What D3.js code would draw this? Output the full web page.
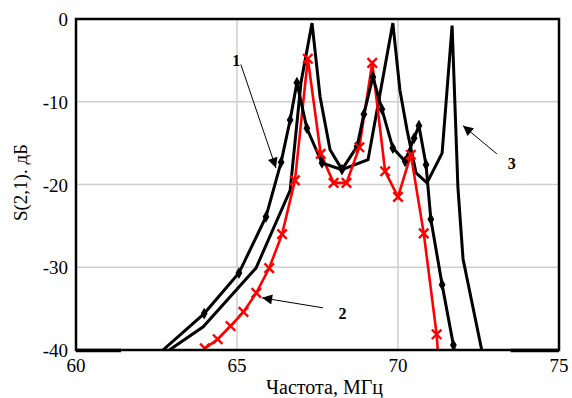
<!DOCTYPE html>
<html><head><meta charset="utf-8">
<script src="https://cdn.jsdelivr.net/npm/d3@7"></script>
<style>body{margin:0;background:#fff}svg{display:block}</style>
</head><body>
<script>
const xTicks = [60, 65, 70, 75];
const yTicks = [0, -10, -20, -30, -40];
const xTitle = "Частота, МГц";
const yTitle = "S(2,1). дБ";

// Curve 1: black with diamond markers
const c1f = [62.7, 63.98, 65.06, 65.9, 66.37, 66.65, 66.86, 67.17, 67.64, 68.26, 68.73, 68.94, 69.22, 69.5, 69.84, 70.22, 70.5, 70.65, 70.87, 71.02, 71.37, 71.72, 71.8];
const c1v = [-40, -35.6, -30.7, -23.9, -17.3, -12.2, -7.7, -13.2, -17.4, -18.2, -15.4, -11.5, -7.0, -10.9, -15.6, -17.2, -14.4, -12.9, -17.6, -24.2, -32.1, -39.4, -41];
const c1marked = [false, true, true, true, true, true, true, true, true, true, true, true, true, true, true, true, true, true, true, true, true, true, false];

// Curve 2: red with x markers
const c2f = [64.0, 64.4, 64.8, 65.2, 65.6, 66.0, 66.4, 66.8, 67.2, 67.6, 68.0, 68.4, 68.8, 69.2, 69.6, 70.0, 70.4, 70.8, 71.2, 71.6];
const c2v = [-39.8, -38.7, -37.1, -35.4, -33.1, -30.1, -26.0, -19.5, -4.8, -16.3, -19.8, -19.8, -15.5, -5.3, -18.4, -21.5, -16.4, -25.9, -38.1, -60];

// Curve 3: black, no markers
const c3f = [62.9, 63.95, 65.59, 66.65, 66.99, 67.33, 67.58, 67.89, 68.26, 69.07, 69.84, 70.06, 70.28, 70.56, 70.9, 71.37, 71.68, 71.86, 72.02, 72.6];
const c3v = [-40, -37.2, -30.1, -20.7, -7.6, -0.5, -9.4, -15.8, -18.2, -17.0, -0.5, -8.6, -13.4, -18.6, -19.8, -16.2, -0.8, -20.3, -29.0, -40];

// thick segments at the bottom edge
const baseSegs = [[60, 61.4], [73.5, 75]];

// annotations: label, label position (f, dB), arrow start and tip (f, dB)
const annLabels = ["1", "2", "3"];
const annText = [[65.1, -5.7], [68.4, -36.3], [73.66, -18.1]];
const annFrom = [[65.12, -5.5], [67.67, -34.9], [73.07, -16.3]];
const annTip = [[66.21, -18.0], [65.78, -33.7], [72.02, -12.9]];

const W = 572, H = 398;
const x = d3.scaleLinear([60, 75], [76, 559]);
const y = d3.scaleLinear([-40, 0], [350, 19]);

const svg = d3.select("body").append("svg").attr("width", W).attr("height", H);
const defs = svg.append("defs");
defs.append("clipPath").attr("id", "clip").append("rect")
  .attr("x", x(60)).attr("y", y(0)).attr("width", x(75) - x(60)).attr("height", y(-40) - y(0));
defs.append("marker").attr("id", "arr").attr("viewBox", "0 0 10 10").attr("refX", 10).attr("refY", 5)
  .attr("markerWidth", 14).attr("markerHeight", 10).attr("markerUnits", "userSpaceOnUse").attr("orient", "auto")
  .append("path").attr("d", "M0,0 L10,5 L0,10 Z").attr("fill", "#000");

// grid
svg.append("g").selectAll("line").data(xTicks.slice(1, -1)).join("line")
  .attr("x1", d => x(d)).attr("x2", d => x(d)).attr("y1", y(0)).attr("y2", y(-40))
  .attr("stroke", "#cfcfcf").attr("stroke-width", 1.5);
svg.append("g").selectAll("line").data(yTicks.slice(1, -1)).join("line")
  .attr("y1", d => y(d)).attr("y2", d => y(d)).attr("x1", x(60)).attr("x2", x(75))
  .attr("stroke", "#cfcfcf").attr("stroke-width", 1.5);

const plot = svg.append("g").attr("clip-path", "url(#clip)");
const line = d3.line().x(d => x(d[0])).y(d => y(d[1]));
const d3data = c3f.map((f, i) => [f, c3v[i]]);
const d1data = c1f.map((f, i) => [f, c1v[i]]);
const d2data = c2f.map((f, i) => [f, c2v[i]]);

plot.append("path").attr("d", line(d3data)).attr("fill", "none").attr("stroke", "#000").attr("stroke-width", 3);
plot.append("path").attr("d", line(d2data)).attr("fill", "none").attr("stroke", "#f00").attr("stroke-width", 2.6);
plot.append("path").attr("d", line(d1data)).attr("fill", "none").attr("stroke", "#000").attr("stroke-width", 3);

// markers curve 1
plot.append("g").selectAll("path").data(d1data.filter((d, i) => c1marked[i])).join("path")
  .attr("d", d3.symbol(d3.symbolDiamond, 40)())
  .attr("transform", d => `translate(${x(d[0])},${y(d[1])})`).attr("fill", "#000");
// markers curve 2
plot.append("g").selectAll("path").data(d2data.filter(d => d[1] >= -40)).join("path")
  .attr("d", d3.symbol(d3.symbolX, 60)())
  .attr("transform", d => `translate(${x(d[0])},${y(d[1])})`).attr("fill", "none")
  .attr("stroke", "#f00").attr("stroke-width", 2.4);

// frame
svg.append("rect").attr("x", x(60)).attr("y", y(0)).attr("width", x(75) - x(60)).attr("height", y(-40) - y(0))
  .attr("fill", "none").attr("stroke", "#000").attr("stroke-width", 2.5);
svg.append("g").selectAll("line").data(baseSegs).join("line")
  .attr("x1", d => x(d[0])).attr("x2", d => x(d[1])).attr("y1", y(-40) + 0.5).attr("y2", y(-40) + 0.5)
  .attr("stroke", "#000").attr("stroke-width", 3.5);

// tick labels
const font = "'Liberation Serif', 'Times New Roman', serif";
svg.append("g").selectAll("text").data(yTicks).join("text")
  .attr("x", 68).attr("y", d => y(d) + 7).attr("text-anchor", "end")
  .attr("font-family", font).attr("font-size", 19).text(d => d);
svg.append("g").selectAll("text").data(xTicks).join("text")
  .attr("x", d => x(d)).attr("y", 372).attr("text-anchor", "middle")
  .attr("font-family", font).attr("font-size", 19).text(d => d);
svg.append("text").attr("x", (x(60) + x(75)) / 2 + 7).attr("y", 394).attr("text-anchor", "middle")
  .attr("font-family", font).attr("font-size", 20).text(xTitle);
svg.append("text").attr("transform", `translate(27,${(y(0) + y(-40)) / 2 - 2}) rotate(-90)`)
  .attr("text-anchor", "middle").attr("font-family", font).attr("font-size", 19).text(yTitle);

// annotations
annLabels.forEach((t, i) => {
  svg.append("line").attr("x1", x(annFrom[i][0])).attr("y1", y(annFrom[i][1]))
    .attr("x2", x(annTip[i][0])).attr("y2", y(annTip[i][1]))
    .attr("stroke", "#000").attr("stroke-width", 1).attr("marker-end", "url(#arr)");
  svg.append("text").attr("x", x(annText[i][0])).attr("y", y(annText[i][1]))
    .attr("text-anchor", "end").attr("font-family", font).attr("font-weight", "bold").attr("font-size", 16).text(t);
});
</script>
</body></html>
